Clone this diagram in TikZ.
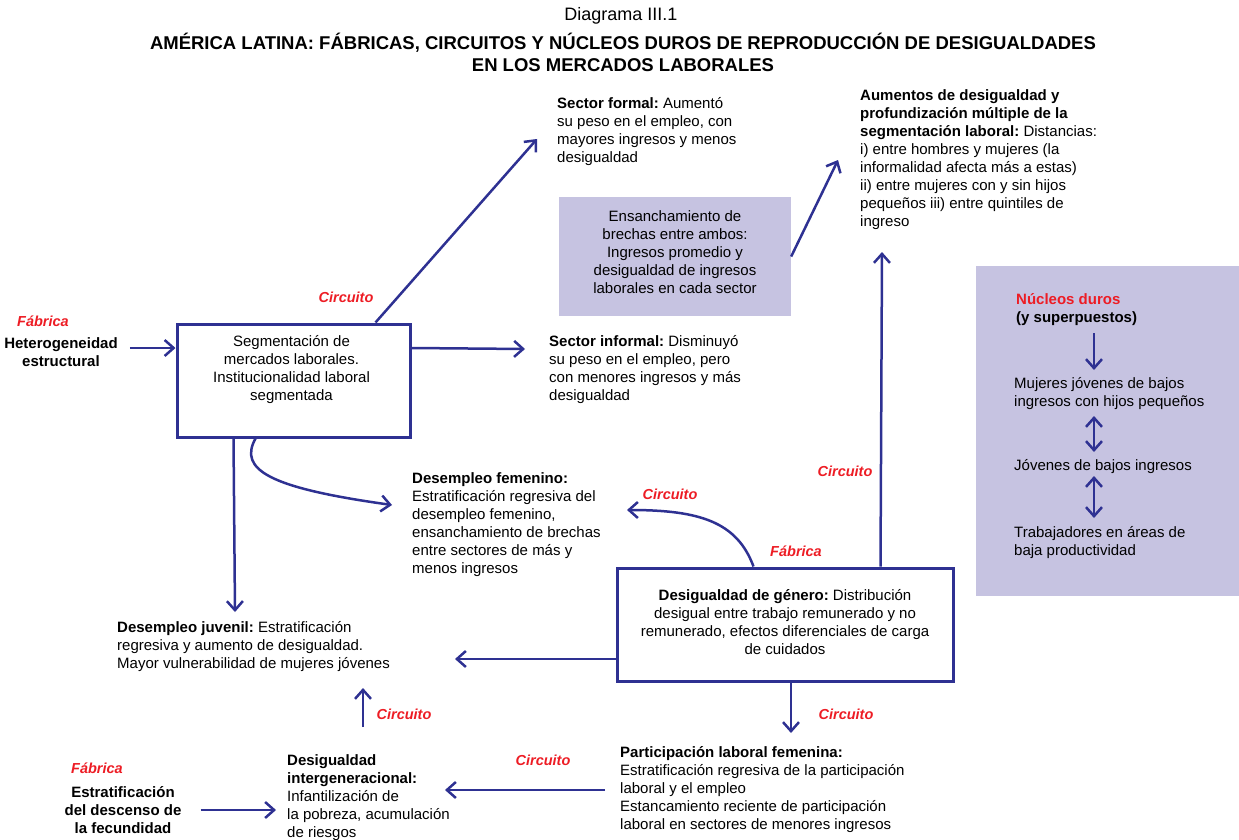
\documentclass[tikz,border=0pt]{standalone}
\usepackage{fontspec}
\setmainfont{Liberation Sans}
\usetikzlibrary{arrows.meta}
\definecolor{ablue}{HTML}{2E3192}
\definecolor{cred}{HTML}{ED1C24}
\definecolor{lilac}{HTML}{C6C3E1}
\frenchspacing
\begin{document}
\begin{tikzpicture}[x=1pt,y=-1pt,
 txt/.style={font=\fontsize{15}{18}\selectfont, inner sep=0pt, align=left, anchor=north west, execute at begin node={\strut}},
 ctxt/.style={font=\fontsize{15}{18}\selectfont, inner sep=0pt, align=center},
 redlab/.style={font=\fontsize{14.5}{17}\selectfont\bfseries\itshape, text=cred, inner sep=0pt},
 bbox/.style={draw=ablue, line width=3pt, inner sep=0pt},
 pbox/.style={fill=lilac, inner sep=0pt},
 arr/.style={draw=ablue, line width=2.5pt, -{Straight Barb[length=9pt,width=16pt]}},
 darr/.style={draw=ablue, line width=2.5pt, {Straight Barb[length=9pt,width=16pt]}-{Straight Barb[length=9pt,width=16pt]}}]
\useasboundingbox (0,0) rectangle (1239,840);

% title
\node[font=\fontsize{18}{22}\selectfont, inner sep=0pt] (t1) at (621,16) {Diagrama III.1};
\node[font=\fontsize{18.5}{22}\selectfont\bfseries, align=center, inner sep=0pt] (t2) at (623,52) {AMÉRICA LATINA: FÁBRICAS, CIRCUITOS Y NÚCLEOS DUROS DE REPRODUCCIÓN DE DESIGUALDADES\\EN LOS MERCADOS LABORALES};

% filled boxes
\node[pbox, minimum width=232pt, minimum height=119pt] (ens) at (675,256.5) {};
\node[ctxt] (enst) at (675,252) {Ensanchamiento de\\brechas entre ambos:\\Ingresos promedio y\\desigualdad de ingresos\\laborales en cada sector};
\node[pbox, minimum width=263pt, minimum height=330pt] (nuc) at (1107.5,431) {};

% framed boxes
\node[bbox, minimum width=233pt, minimum height=113pt] (seg) at (293.5,380.5) {};
\node[ctxt] (segt) at (291.5,370) {Segmentación de\\mercados laborales.\\Institucionalidad laboral\\segmentada};
\node[bbox, minimum width=336pt, minimum height=113pt] (gen) at (785,624.5) {};
\node[ctxt] (gent) at (785,622) {\textbf{Desigualdad de género:} Distribución\\desigual entre trabajo remunerado y no\\remunerado, efectos diferenciales de carga\\de cuidados};

% texts
\node[ctxt] (het) at (61,352) {\textbf{Heterogeneidad}\\\textbf{estructural}};
\node[ctxt] (fec) at (123,810) {\textbf{Estratificación}\\\textbf{del descenso de}\\\textbf{la fecundidad}};
\node[txt] (sfor) at (557,97) {\textbf{Sector formal:} Aumentó\\su peso en el empleo, con\\mayores ingresos y menos\\desigualdad};
\node[txt] (sinf) at (549,335) {\textbf{Sector informal:} Disminuyó\\su peso en el empleo, pero\\con menores ingresos y más\\desigualdad};
\node[txt] (aum) at (860,89) {\textbf{Aumentos de desigualdad y}\\\textbf{profundización múltiple de la}\\\textbf{segmentación laboral:} Distancias:\\i) entre hombres y mujeres (la\\informalidad afecta más a estas)\\ii) entre mujeres con y sin hijos\\pequeños iii) entre quintiles de\\ingreso};
\node[txt] (dfem) at (412,472) {\textbf{Desempleo femenino:}\\Estratificación regresiva del\\desempleo femenino,\\ensanchamiento de brechas\\entre sectores de más y\\menos ingresos};
\node[txt] (djuv) at (117,621) {\textbf{Desempleo juvenil:} Estratificación\\regresiva y aumento de desigualdad.\\Mayor vulnerabilidad de mujeres jóvenes};
\node[txt] (pfem) at (620,746) {\textbf{Participación laboral femenina:}\\Estratificación regresiva de la participación\\laboral y el empleo\\Estancamiento reciente de participación\\laboral en sectores de menores ingresos};
\node[txt] (dint) at (287,754) {\textbf{Desigualdad}\\\textbf{intergeneracional:}\\Infantilización de\\la pobreza, acumulación\\de riesgos};
\node[txt] (nu1) at (1016,293) {\textcolor{cred}{\textbf{Núcleos duros}}\\\textbf{(y superpuestos)}};
\node[txt] (nu2) at (1014,377) {Mujeres jóvenes de bajos\\ingresos con hijos pequeños};
\node[txt] (nu3) at (1014,458) {Jóvenes de bajos ingresos};
\node[txt] (nu4) at (1014,526) {Trabajadores en áreas de\\baja productividad};

% red labels
\node[redlab] (r1) at (43,321) {Fábrica};
\node[redlab] (r2) at (346,297) {Circuito};
\node[redlab] (r3) at (845,471) {Circuito};
\node[redlab] (r4) at (670,494) {Circuito};
\node[redlab] (r5) at (796,551) {Fábrica};
\node[redlab] (r6) at (846,714) {Circuito};
\node[redlab] (r7) at (543,760) {Circuito};
\node[redlab] (r8) at (404,714) {Circuito};
\node[redlab] (r9) at (97,768) {Fábrica};

% connectors
\draw[arr] ([xshift=12pt,yshift=4pt]het.east) -- ([yshift=32.5pt]seg.west);
\draw[arr] ([xshift=-36pt]seg.north east) -- ([xshift=-20pt,yshift=-42pt]sfor.north west);
\draw[arr] ([yshift=32.5pt]seg.east) -- ([xshift=-24pt,yshift=-14pt]sinf.north west);
\draw[arr] (ens.east) -- ([xshift=-22pt,yshift=-71pt]aum.north west);
\draw[arr] ([xshift=265pt]gen.north west) -- ([xshift=22pt,yshift=-163pt]aum.north west);
\draw[arr] ([xshift=58pt]seg.south west) -- ([xshift=118pt,yshift=9pt]djuv.north west);
\draw[arr] ([xshift=80pt]seg.south west) .. controls (238,470) and (270,488) .. ([xshift=-20pt,yshift=-33pt]dfem.north west);
\draw[arr] ([xshift=138pt]gen.north west) .. controls (737,522) and (700,510) .. ([xshift=215pt,yshift=-38pt]dfem.north west);
\draw[arr] ([yshift=-34.5pt]gen.west) -- ([xshift=338pt,yshift=-38pt]djuv.north west);
\draw[arr] ([xshift=6pt]gen.south) -- ([xshift=171pt,yshift=13pt]pfem.north west);
\draw[arr] ([xshift=-15pt,yshift=-44pt]pfem.north west) -- ([xshift=158pt,yshift=-36pt]dint.north west);
\draw[arr] ([xshift=76pt,yshift=27pt]dint.north west) -- ([xshift=246pt,yshift=-67pt]djuv.north west);
\draw[arr] ([xshift=19pt]fec.east) -- ([xshift=-11pt,yshift=-56pt]dint.north west);
\draw[arr] ([xshift=78pt,yshift=-40pt]nu1.north west) -- ([xshift=80pt,yshift=7pt]nu2.north west);
\draw[darr] ([xshift=80pt,yshift=-39pt]nu2.north west) -- ([xshift=80pt,yshift=6pt]nu3.north west);
\draw[darr] ([xshift=80pt,yshift=-18pt]nu3.north west) -- ([xshift=80pt,yshift=8pt]nu4.north west);
\end{tikzpicture}
\end{document}
